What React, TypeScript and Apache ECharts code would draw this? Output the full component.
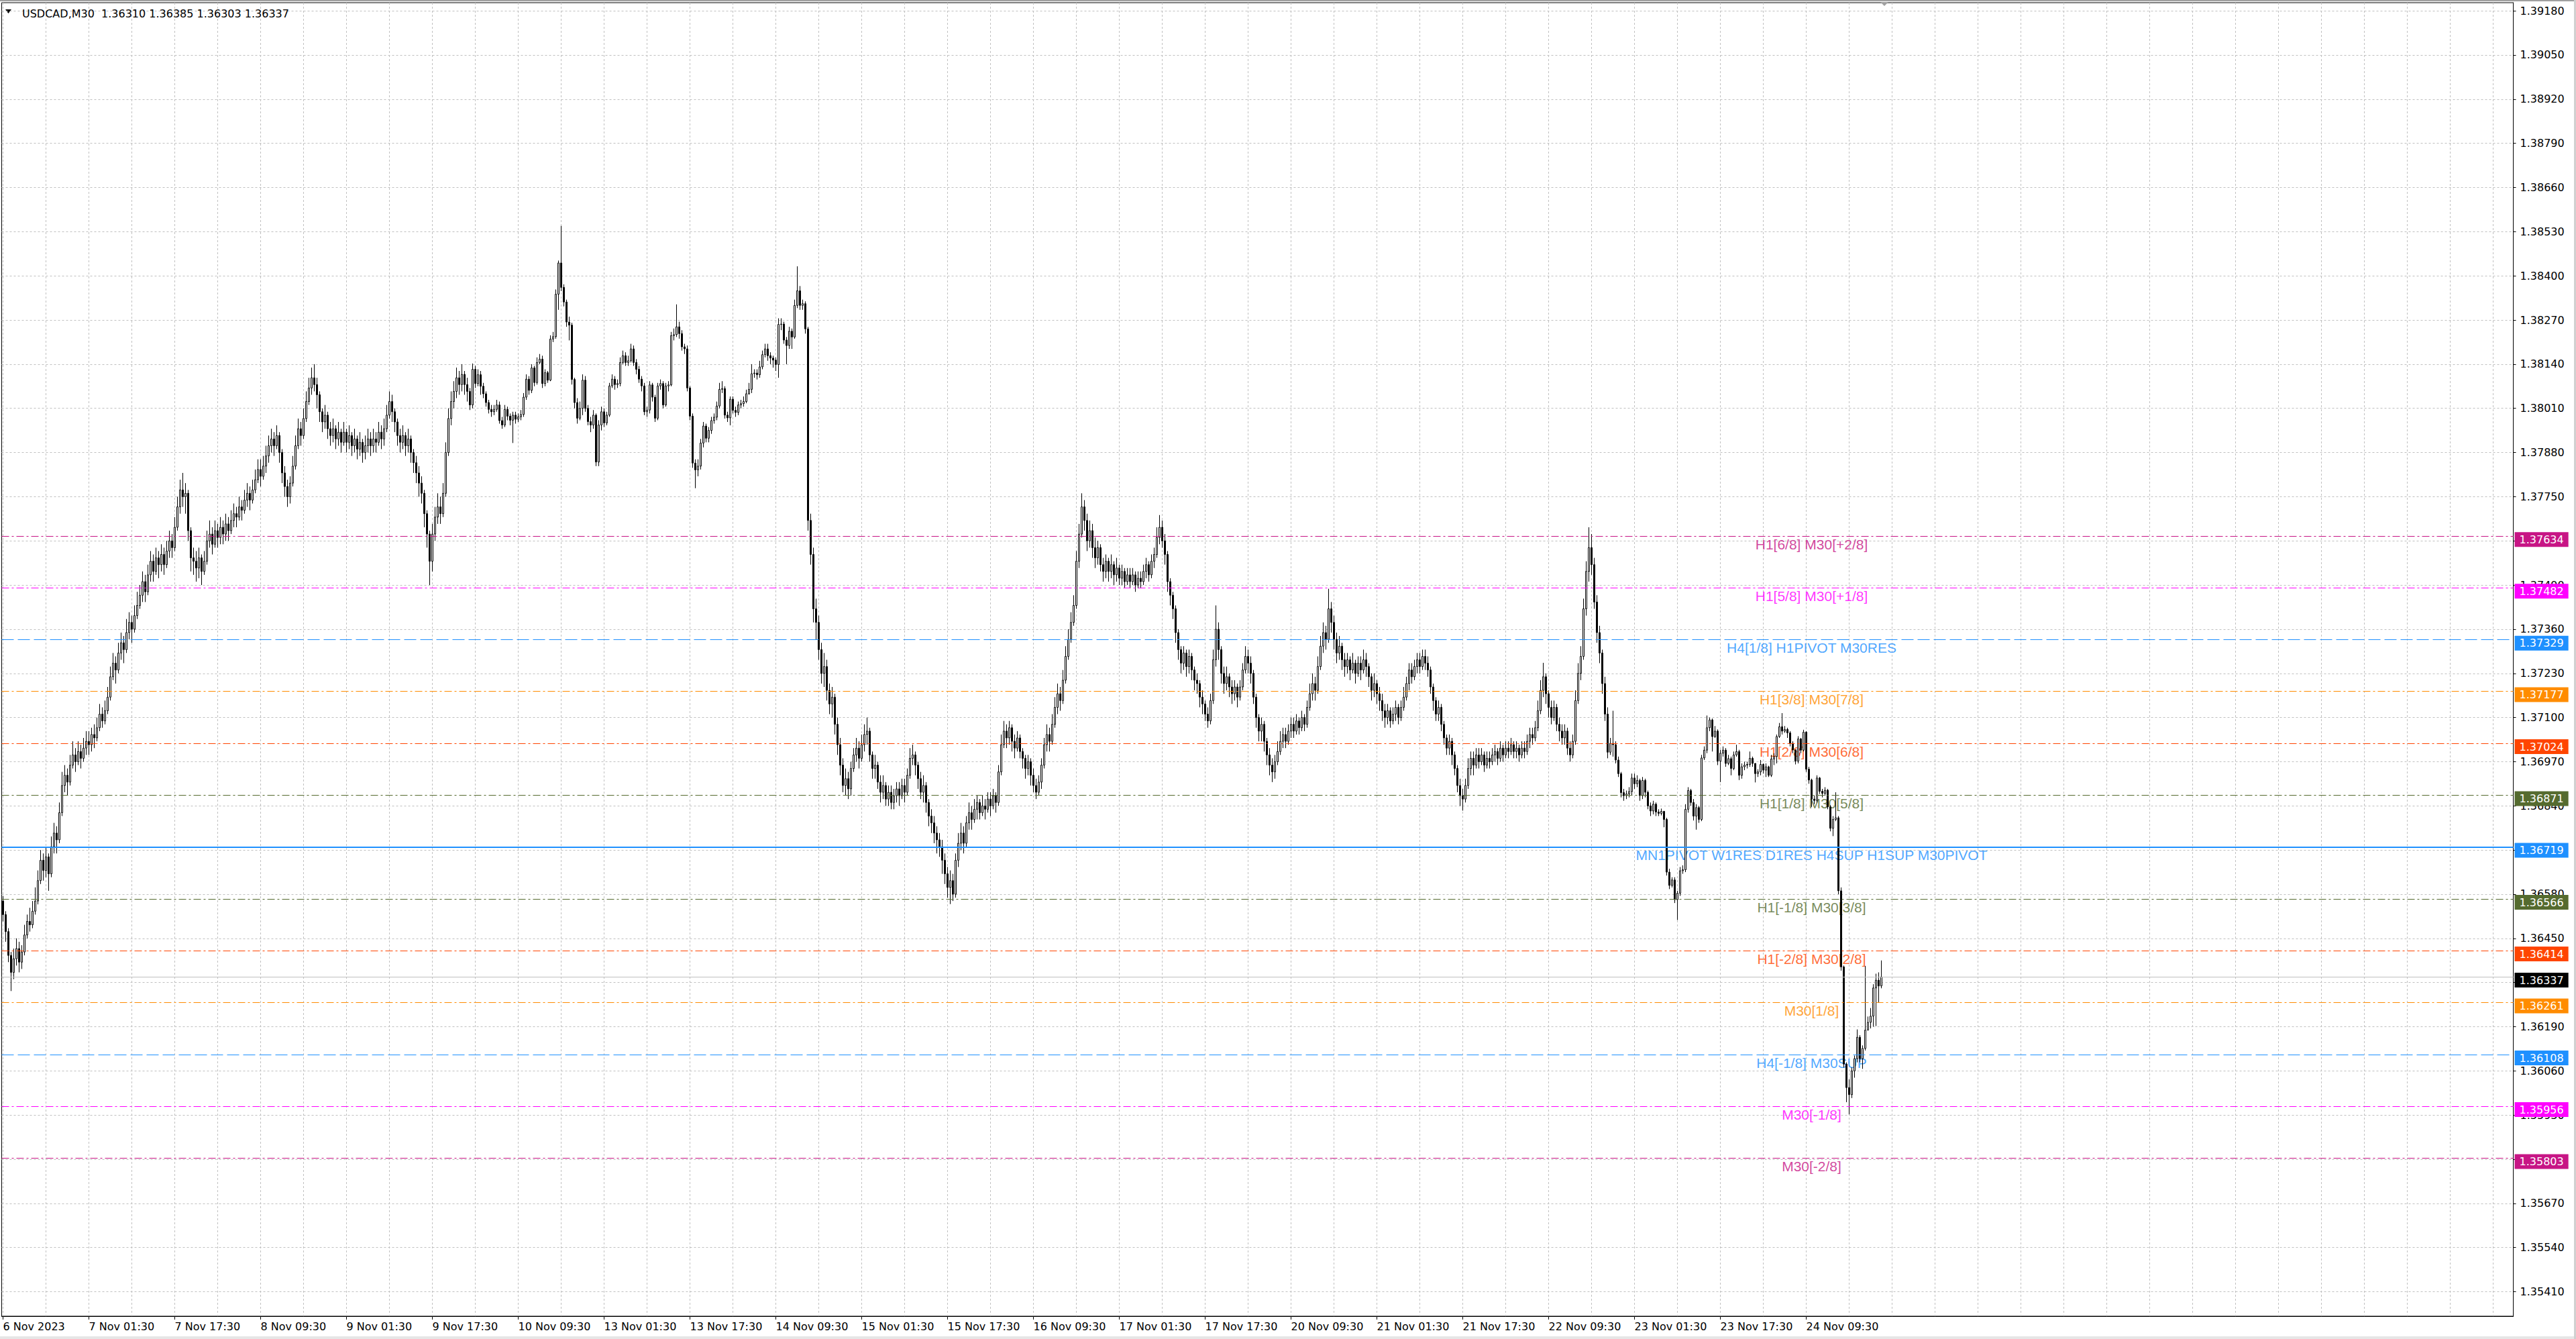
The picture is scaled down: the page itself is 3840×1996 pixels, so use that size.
import React, { useEffect, useRef } from "react";
import * as echarts from "echarts";

// Prices are stored in points above 1.30000 (1 point = 0.00001)
const PRICE_BASE = 1.3;
const POINT = 100000;
const FIRST_OPEN = 6560;

// USDCAD M30 bars, first bar 6 Nov 2023 09:30, one bar per slot
const closes = [
  6520, 6470, 6400, 6350, 6390, 6420, 6380, 6410, 6460, 6500,
  6490, 6530, 6560, 6620, 6680, 6650, 6690, 6640, 6720, 6760,
  6740, 6820, 6900, 6930, 6910, 6960, 6990, 6970, 7000, 6980,
  7010, 7030, 7020, 7050, 7040, 7070, 7110, 7090, 7120, 7160,
  7220, 7260, 7240, 7290, 7320, 7300, 7350, 7380, 7360, 7400,
  7430, 7460, 7500, 7470, 7520, 7560, 7530, 7570, 7550, 7580,
  7550, 7590, 7620, 7600, 7660, 7720, 7770, 7750, 7760, 7650,
  7570, 7560, 7540, 7570, 7530, 7560, 7620, 7640, 7610, 7650,
  7630, 7660, 7640, 7670, 7650, 7680, 7700, 7690, 7720, 7710,
  7740, 7760, 7740, 7770, 7800, 7830, 7810, 7840, 7870, 7900,
  7920, 7900, 7930, 7880, 7820, 7780, 7750, 7790, 7840, 7900,
  7950, 7930, 7980, 8030, 8070, 8100, 8080, 8050, 8000, 7970,
  7990, 7950, 7930, 7950, 7920, 7940, 7910, 7940, 7910, 7930,
  7900, 7920, 7890, 7910, 7880, 7900, 7920, 7900, 7920, 7910,
  7940, 7920, 7950, 7990, 8030, 8000, 7970, 7930, 7910, 7930,
  7900, 7920, 7880, 7850, 7820, 7790, 7760, 7700, 7640, 7560,
  7640, 7690, 7720, 7700, 7760, 7880, 7980, 8030, 8060, 8100,
  8080, 8110, 8080, 8060, 8020, 8125, 8083, 8109, 8075, 8053,
  8027, 8007, 8000, 8007, 8020, 7974, 7961, 8007, 7987, 7975,
  7990, 7978, 7985, 7992, 8043, 8096, 8063, 8129, 8086, 8145,
  8155, 8083, 8115, 8093, 8214, 8221, 8346, 8438, 8366, 8323,
  8264, 8255, 8095, 8027, 7981, 8010, 8093, 8010, 7971, 7961,
  7990, 7852, 7961, 8000, 7967, 7990, 8076, 8096, 8080, 8083,
  8145, 8165, 8145, 8150, 8185, 8145, 8125, 8096, 8076, 8000,
  8005, 8079, 8043, 7981, 8076, 8083, 8020, 8076, 8079, 8224,
  8227, 8250, 8230, 8191, 8185, 8070, 7987, 7849, 7829, 7840,
  7908, 7958, 7922, 7945, 7974, 7984, 8017, 8066, 8068, 7990,
  7982, 8037, 8004, 7998, 8020, 8024, 8030, 8053, 8066, 8112,
  8114, 8109, 8132, 8168, 8185, 8165, 8158, 8152, 8139, 8257,
  8258, 8211, 8195, 8237, 8220, 8313, 8356, 8313, 8318, 8244,
  7680, 7580, 7420, 7380, 7300, 7230, 7250, 7180, 7140, 7160,
  7080, 7020, 6960, 6900, 6920, 6890, 6950, 6990, 7010, 6980,
  7020, 7050, 7060, 6990, 6950, 6960, 6910, 6880, 6900, 6860,
  6880, 6850, 6870, 6890, 6870, 6900, 6880, 6930, 6980, 6990,
  6960, 6920, 6880, 6900, 6850, 6810, 6790, 6760, 6740, 6720,
  6680, 6640, 6600, 6620, 6580, 6680, 6730, 6760, 6730, 6790,
  6820, 6800, 6830, 6850, 6820, 6840, 6830, 6860, 6840, 6870,
  6850, 6940, 7020, 7060, 7040, 7070, 7030, 7010, 7040, 7000,
  6980, 6950, 6970, 6930, 6900, 6880, 6910, 6960, 7020, 7050,
  7030, 7080, 7130, 7170, 7150, 7210, 7280, 7330, 7380, 7430,
  7560, 7640, 7720, 7680, 7620, 7650, 7600, 7570, 7600, 7550,
  7530, 7560, 7530, 7550, 7520, 7540, 7510, 7530, 7500, 7520,
  7500, 7520, 7490, 7510, 7500, 7530, 7550, 7520, 7560, 7580,
  7630, 7660, 7620, 7580, 7500, 7460, 7420, 7350, 7300, 7260,
  7290, 7250, 7280, 7240, 7210, 7200, 7160, 7140, 7110, 7090,
  7150, 7270, 7360, 7300, 7230, 7200, 7220, 7190, 7170, 7190,
  7160, 7190, 7240, 7280, 7260, 7230, 7160, 7100, 7060, 7080,
  7030, 6990, 6960, 6940, 6970, 7000, 7030, 7050, 7030, 7060,
  7080, 7060, 7090, 7070, 7100, 7080, 7130, 7170, 7200, 7180,
  7250, 7310, 7350, 7330, 7420, 7380, 7330, 7290, 7310, 7270,
  7250, 7270, 7240, 7260, 7230, 7260, 7240, 7270, 7250, 7220,
  7180, 7200, 7170, 7150, 7120, 7100, 7120, 7090, 7110, 7130,
  7100, 7130, 7160, 7200, 7240, 7220, 7250, 7270, 7250, 7280,
  7260, 7240, 7190, 7150, 7110, 7130, 7080, 7040, 7010, 7030,
  6990, 6950, 6900, 6870, 6860, 6900, 6950, 6980, 6960, 6990,
  6970, 6990, 6960, 6980, 6970, 6990, 7000, 6980, 7010, 6990,
  7010, 7000, 7020, 7000, 7010, 6990, 7010, 7000, 7030, 7050,
  7040, 7070, 7120, 7180, 7220, 7170, 7130, 7100, 7130, 7080,
  7060, 7040, 7060, 7010, 6990, 7030, 7150, 7230, 7280, 7420,
  7530, 7600, 7550, 7440, 7350, 7290, 7200, 7110, 6998, 7024,
  7020, 6975, 6935, 6879, 6870, 6875, 6882, 6922, 6905, 6915,
  6870, 6915, 6880, 6840, 6825, 6845, 6822, 6818, 6824, 6800,
  6645, 6606, 6622, 6564, 6583, 6649, 6652, 6830, 6885, 6850,
  6810, 6835, 6800, 6981, 7004, 7070, 7093, 7044, 7060, 6972,
  6995, 7004, 6965, 6979, 6950, 6990, 7000, 6930, 6955, 6960,
  6962, 6980, 6965, 6935, 6940, 6962, 6945, 6955, 6930, 6978,
  6985, 7044, 7073, 7060, 7065, 7055, 7024, 7005, 6972, 7037,
  7004, 7057, 6948, 6916, 6860, 6856, 6922, 6883, 6877, 6886,
  6837, 6774, 6800, 6805, 6590, 6366, 6080, 6011, 5990, 6060,
  6096, 6159, 6096, 6126, 6180, 6203, 6221, 6304, 6327, 6310,
  6337,
];

const highs = [
  6575, 6530, 6480, 6410, 6420, 6450, 6440, 6430, 6490, 6520,
  6540, 6560, 6600, 6650, 6710, 6700, 6720, 6700, 6750, 6790,
  6780, 6850, 6940, 6960, 6950, 6990, 7030, 7010, 7030, 7020,
  7040, 7060, 7060, 7070, 7080, 7100, 7140, 7130, 7150, 7190,
  7250, 7290, 7280, 7320, 7350, 7340, 7390, 7410, 7400, 7430,
  7470, 7490, 7530, 7520, 7550, 7590, 7580, 7600, 7590, 7610,
  7600, 7620, 7650, 7640, 7690, 7750, 7800, 7820, 7790, 7770,
  7660, 7600, 7590, 7600, 7580, 7590, 7650, 7680, 7660, 7680,
  7670, 7690, 7680, 7700, 7690, 7710, 7730, 7720, 7750, 7740,
  7770, 7790, 7780, 7800, 7830, 7860, 7860, 7870, 7900, 7930,
  7950, 7940, 7960, 7940, 7890, 7840, 7800, 7810, 7870, 7930,
  7980, 7970, 8010, 8060, 8100, 8130, 8140, 8100, 8060, 8010,
  8020, 8000, 7970, 7980, 7960, 7970, 7950, 7970, 7950, 7960,
  7940, 7950, 7930, 7940, 7920, 7930, 7950, 7940, 7950, 7940,
  7970, 7960, 7980, 8020, 8060, 8050, 8010, 7980, 7950, 7960,
  7940, 7950, 7930, 7890, 7870, 7840, 7810, 7770, 7710, 7650,
  7670, 7720, 7760, 7750, 7790, 7910, 8010, 8060, 8090, 8130,
  8120, 8140, 8120, 8100, 8070, 8142, 8135, 8125, 8120, 8085,
  8060, 8035, 8020, 8020, 8035, 8030, 7985, 8020, 8015, 7995,
  8000, 8000, 7995, 8005, 8055, 8110, 8105, 8140, 8135, 8160,
  8170, 8165, 8125, 8120, 8225, 8235, 8360, 8445, 8547, 8375,
  8330, 8280, 8262, 8100, 8040, 8030, 8110, 8105, 8020, 7985,
  8005, 7995, 7975, 8015, 8010, 8000, 8085, 8110, 8105, 8095,
  8160, 8180, 8175, 8165, 8200, 8195, 8155, 8135, 8105, 8085,
  8015, 8090, 8085, 8050, 8085, 8095, 8090, 8085, 8090, 8235,
  8245, 8316, 8265, 8240, 8200, 8195, 8075, 7995, 7860, 7860,
  7920, 7970, 7965, 7955, 7985, 7995, 8030, 8085, 8090, 8075,
  8000, 8045, 8045, 8015, 8030, 8035, 8045, 8065, 8085, 8140,
  8125, 8125, 8150, 8180, 8200, 8200, 8175, 8165, 8160, 8275,
  8275, 8265, 8220, 8250, 8245, 8330, 8428, 8370, 8330, 8325,
  8250, 7700, 7600, 7450, 7400, 7320, 7290, 7270, 7200, 7190,
  7170, 7100, 7040, 6980, 6950, 6940, 6970, 7010, 7040, 7030,
  7050, 7080, 7100, 7070, 7000, 6990, 6970, 6930, 6930, 6910,
  6900, 6900, 6890, 6910, 6910, 6920, 6920, 6950, 7010, 7020,
  7000, 6970, 6940, 6930, 6910, 6860, 6830, 6810, 6780, 6760,
  6740, 6700, 6660, 6650, 6640, 6700, 6760, 6790, 6780, 6810,
  6850, 6840, 6860, 6870, 6860, 6870, 6860, 6880, 6880, 6890,
  6880, 6960, 7050, 7090, 7080, 7090, 7080, 7050, 7060, 7050,
  7010, 6990, 6990, 6980, 6950, 6920, 6930, 6980, 7040, 7080,
  7070, 7110, 7160, 7200, 7190, 7240, 7310, 7360, 7410, 7460,
  7590, 7670, 7760, 7740, 7700, 7680, 7670, 7630, 7620, 7610,
  7570, 7580, 7570, 7580, 7560, 7570, 7550, 7550, 7540, 7540,
  7540, 7540, 7530, 7530, 7530, 7550, 7570, 7560, 7580, 7600,
  7660, 7696, 7680, 7640, 7590, 7510, 7470, 7430, 7360, 7310,
  7310, 7300, 7300, 7290, 7250, 7230, 7210, 7180, 7150, 7130,
  7170, 7300, 7430, 7380, 7310, 7250, 7250, 7230, 7210, 7210,
  7200, 7210, 7260, 7310, 7300, 7280, 7240, 7170, 7110, 7100,
  7090, 7040, 7010, 6980, 6990, 7030, 7060, 7070, 7070, 7080,
  7100, 7100, 7110, 7100, 7120, 7110, 7150, 7200, 7230, 7220,
  7280, 7340, 7380, 7370, 7479, 7440, 7400, 7350, 7340, 7320,
  7290, 7290, 7280, 7290, 7270, 7280, 7280, 7300, 7290, 7260,
  7230, 7230, 7210, 7190, 7170, 7140, 7140, 7130, 7130, 7150,
  7140, 7150, 7190, 7220, 7260, 7260, 7270, 7290, 7290, 7300,
  7300, 7280, 7250, 7200, 7160, 7150, 7140, 7090, 7050, 7050,
  7040, 7000, 6960, 6920, 6890, 6920, 6980, 7000, 7000, 7010,
  7010, 7010, 7000, 7000, 7000, 7010, 7020, 7010, 7030, 7020,
  7030, 7030, 7040, 7030, 7030, 7020, 7030, 7030, 7050, 7070,
  7070, 7090, 7150, 7210, 7261, 7230, 7180, 7150, 7150, 7140,
  7100, 7080, 7080, 7070, 7030, 7050, 7180, 7260, 7310, 7450,
  7560, 7660, 7640, 7570, 7460, 7370, 7300, 7220, 7130, 7040,
  7120, 7030, 6985, 6940, 6890, 6885, 6895, 6935, 6935, 6930,
  6920, 6925, 6920, 6885, 6850, 6855, 6850, 6830, 6832, 6825,
  6805, 6655, 6630, 6630, 6590, 6660, 6665, 6845, 6895, 6890,
  6860, 6845, 6840, 6990, 7015, 7106, 7100, 7097, 7075, 7065,
  7005, 7015, 7010, 6990, 6985, 7000, 7020, 7005, 6965, 6970,
  6970, 7000, 6985, 6965, 6948, 6975, 6965, 6965, 6958, 6990,
  6995, 7050, 7084, 7113, 7075, 7070, 7060, 7030, 7005, 7045,
  7040, 7064, 7060, 6955, 6920, 6870, 6930, 6925, 6890, 6895,
  6890, 6842, 6810, 6880, 6810, 6600, 6370, 6085, 6035, 6070,
  6105, 6182, 6165, 6135, 6369, 6220, 6245, 6315, 6346, 6350,
  6385,
];

const lows = [
  6500, 6440, 6380, 6295, 6330, 6370, 6350, 6360, 6400, 6450,
  6470, 6480, 6520, 6550, 6610, 6620, 6630, 6590, 6630, 6700,
  6700, 6730, 6810, 6880, 6870, 6900, 6950, 6940, 6960, 6950,
  6970, 6990, 6990, 7000, 7010, 7030, 7060, 7070, 7080, 7110,
  7150, 7210, 7200, 7230, 7270, 7260, 7290, 7330, 7320, 7350,
  7390, 7420, 7440, 7440, 7460, 7500, 7500, 7520, 7510, 7530,
  7520, 7540, 7570, 7570, 7590, 7650, 7700, 7720, 7700, 7620,
  7530, 7520, 7500, 7510, 7490, 7520, 7550, 7600, 7580, 7600,
  7600, 7610, 7610, 7620, 7620, 7640, 7660, 7660, 7680, 7680,
  7700, 7720, 7710, 7730, 7760, 7790, 7780, 7800, 7820, 7850,
  7880, 7870, 7890, 7850, 7790, 7750, 7720, 7730, 7780, 7830,
  7890, 7900, 7920, 7970, 8020, 8050, 8060, 8010, 7970, 7940,
  7950, 7920, 7900, 7910, 7890, 7900, 7880, 7900, 7880, 7890,
  7870, 7880, 7860, 7870, 7850, 7860, 7880, 7870, 7880, 7880,
  7900, 7890, 7900, 7940, 7980, 7970, 7940, 7900, 7880, 7890,
  7870, 7880, 7850, 7820, 7790, 7750, 7730, 7660, 7600, 7490,
  7530, 7620, 7670, 7670, 7690, 7750, 7870, 7960, 8010, 8040,
  8050, 8060, 8050, 8030, 8005, 8010, 8070, 8075, 8050, 8040,
  8015, 7995, 7985, 7990, 8000, 7965, 7950, 7955, 7975, 7960,
  7908, 7965, 7970, 7975, 7985, 8035, 8050, 8055, 8075, 8080,
  8140, 8070, 8075, 8085, 8090, 8205, 8215, 8300, 8355, 8310,
  8250, 8210, 8080, 8010, 7965, 7975, 7990, 8000, 7960, 7940,
  7950, 7840, 7840, 7945, 7955, 7960, 7985, 8070, 8065, 8070,
  8075, 8140, 8135, 8135, 8145, 8135, 8110, 8085, 8060, 7990,
  7985, 7995, 8030, 7970, 7975, 8065, 8010, 8015, 8060, 8075,
  8210, 8220, 8215, 8180, 8170, 8060, 7975, 7835, 7775, 7810,
  7830, 7895, 7910, 7910, 7935, 7965, 7975, 8010, 8055, 7980,
  7970, 7960, 7995, 7985, 7990, 8010, 8015, 8025, 8050, 8055,
  8100, 8095, 8100, 8125, 8160, 8150, 8140, 8130, 8120, 8100,
  8240, 8200, 8140, 8185, 8185, 8215, 8305, 8300, 8300, 8230,
  7650, 7550, 7380, 7330, 7270, 7200, 7190, 7150, 7110, 7100,
  7050, 6990, 6930, 6880, 6870, 6860, 6870, 6940, 6970, 6950,
  6970, 7000, 7020, 6970, 6920, 6920, 6890, 6850, 6860, 6840,
  6840, 6830, 6830, 6850, 6840, 6860, 6850, 6870, 6920, 6960,
  6930, 6890, 6860, 6850, 6820, 6780, 6760, 6730, 6700, 6690,
  6640, 6610, 6570, 6551, 6560, 6570, 6660, 6710, 6700, 6720,
  6770, 6770, 6790, 6800, 6800, 6810, 6800, 6820, 6810, 6830,
  6820, 6840, 6930, 7010, 7010, 7020, 7000, 6980, 7000, 6980,
  6950, 6920, 6930, 6900, 6880, 6860, 6870, 6890, 6950, 7000,
  7000, 7020, 7070, 7110, 7120, 7140, 7200, 7270, 7320, 7370,
  7420, 7540, 7630, 7650, 7590, 7600, 7570, 7540, 7550, 7530,
  7500, 7510, 7500, 7510, 7490, 7500, 7490, 7490, 7480, 7490,
  7480, 7490, 7470, 7480, 7480, 7490, 7510, 7500, 7510, 7540,
  7570, 7610, 7600, 7550, 7470, 7430, 7390, 7320, 7270, 7230,
  7240, 7220, 7230, 7210, 7180, 7170, 7130, 7110, 7090, 7070,
  7080, 7140, 7250, 7270, 7200, 7170, 7180, 7160, 7140, 7150,
  7130, 7150, 7180, 7230, 7230, 7200, 7140, 7070, 7030, 7030,
  7000, 6960, 6930, 6910, 6920, 6960, 6990, 7010, 7010, 7020,
  7040, 7040, 7050, 7050, 7060, 7060, 7070, 7120, 7150, 7150,
  7170, 7240, 7290, 7300, 7320, 7350, 7300, 7260, 7270, 7240,
  7220, 7230, 7210, 7230, 7200, 7220, 7210, 7230, 7220, 7190,
  7150, 7160, 7140, 7120, 7090, 7070, 7080, 7070, 7080, 7090,
  7080, 7090, 7120, 7150, 7180, 7200, 7210, 7230, 7230, 7240,
  7240, 7220, 7170, 7120, 7090, 7090, 7060, 7020, 6990, 6990,
  6960, 6930, 6880, 6840, 6826, 6850, 6890, 6930, 6930, 6950,
  6950, 6960, 6940, 6950, 6950, 6960, 6970, 6960, 6970, 6970,
  6980, 6980, 6990, 6980, 6980, 6970, 6980, 6980, 6990, 7010,
  7020, 7030, 7060, 7110, 7160, 7140, 7100, 7080, 7090, 7060,
  7030, 7020, 7020, 6990, 6970, 6980, 7020, 7140, 7210, 7270,
  7400, 7500, 7520, 7420, 7320, 7260, 7170, 7090, 6980, 6990,
  6985, 6965, 6925, 6865, 6855, 6860, 6865, 6870, 6890, 6895,
  6855, 6860, 6865, 6830, 6810, 6815, 6810, 6810, 6812, 6777,
  6635, 6595, 6600, 6554, 6504, 6575, 6640, 6645, 6820, 6840,
  6797, 6770, 6790, 6795, 6975, 6995, 7060, 7000, 7040, 6960,
  6910, 6985, 6955, 6960, 6930, 6945, 6985, 6916, 6920, 6945,
  6950, 6955, 6955, 6909, 6925, 6930, 6935, 6925, 6925, 6925,
  6960, 6965, 7040, 7050, 7055, 7040, 7015, 6995, 6962, 6965,
  6995, 7000, 6940, 6905, 6837, 6845, 6850, 6875, 6865, 6870,
  6830, 6765, 6751, 6795, 6580, 6355, 6070, 5968, 5932, 5980,
  6040, 6085, 6085, 6066, 6120, 6180, 6185, 6190, 6192, 6262,
  6303,
];

const xLabels = [
  "6 Nov 2023", "7 Nov 01:30", "7 Nov 17:30", "8 Nov 09:30", "9 Nov 01:30",
  "9 Nov 17:30", "10 Nov 09:30", "13 Nov 01:30", "13 Nov 17:30", "14 Nov 09:30",
  "15 Nov 01:30", "15 Nov 17:30", "16 Nov 09:30", "17 Nov 01:30", "17 Nov 17:30",
  "20 Nov 09:30", "21 Nov 01:30", "21 Nov 17:30", "22 Nov 09:30", "23 Nov 01:30",
  "23 Nov 17:30", "24 Nov 09:30",
];

const yTicks = [
  1.3918, 1.3905, 1.3892, 1.3879, 1.3866, 1.3853, 1.384, 1.3827, 1.3814, 1.3801,
  1.3788, 1.3775, 1.3762, 1.3749, 1.3736, 1.3723, 1.371, 1.3697, 1.3684, 1.3671,
  1.3658, 1.3645, 1.3632, 1.3619, 1.3606, 1.3593, 1.358, 1.3567, 1.3554, 1.3541,
];

const levelPrices = [
  1.37634, 1.37482, 1.37329, 1.37177, 1.37024, 1.36871, 1.36719,
  1.36566, 1.36414, 1.36261, 1.36108, 1.35956, 1.35803,
];
const levelNames = [
  "H1[6/8] M30[+2/8]",
  "H1[5/8] M30[+1/8]",
  "H4[1/8] H1PIVOT M30RES",
  "H1[3/8] M30[7/8]",
  "H1[2/8] M30[6/8]",
  "H1[1/8] M30[5/8]",
  "MN1PIVOT W1RES D1RES H4SUP H1SUP M30PIVOT",
  "H1[-1/8] M30[3/8]",
  "H1[-2/8] M30[2/8]",
  "M30[1/8]",
  "H4[-1/8] M30SUP",
  "M30[-1/8]",
  "M30[-2/8]",
];
const levelColors = [
  "#C71585", "#FF00FF", "#1E90FF", "#FF8C00", "#FF4500", "#556B2F", "#1E90FF",
  "#556B2F", "#FF4500", "#FF8C00", "#1E90FF", "#FF00FF", "#C71585",
];
const levelStyles = [
  "dashdot", "dashdot", "dash", "dashdot", "dashdot", "dashdot", "solid",
  "dashdot", "dashdot", "dashdot", "dash", "dashdot", "dashdot",
];
const lastPrice = 1.36337;
const chartTitle = "USDCAD,M30\u00a0 1.36310 1.36385 1.36303 1.36337";

const SLOT_COUNT = 936;
const LABEL_EVERY = 32;
const GRID_EVERY = 16;
const LEVEL_LABEL_SLOT = 674;
const Y_MIN = 1.35338;
const Y_MAX = 1.39204;

const GRID_LEFT = 2.5;
const GRID_RIGHT = 93.5;
const GRID_TOP = 4;
const GRID_BOTTOM = 34;
const PAGE_H = 1996;
const TAG_DROP_PX = 5;

const AXIS_FONT = "DejaVu Sans";
const LEVEL_FONT = "Liberation Sans";

function dashOf(style: string): any {
  if (style === "dashdot") return [11, 4, 3, 4];
  if (style === "dash") return [18, 6];
  return "solid";
}

function toPrice(v: number) {
  return PRICE_BASE + v / POINT;
}

function buildOption() {
  const categories = Array.from({ length: SLOT_COUNT }, (_, i) => String(i));
  const candles = closes.map((c, i) => {
    const o = i === 0 ? FIRST_OPEN : closes[i - 1];
    const h = Math.max(highs[i], o, c);
    const l = Math.min(lows[i], o, c);
    return [toPrice(o), toPrice(c), toPrice(l), toPrice(h)];
  });

  const isLabelSlot = (i: number) => i % LABEL_EVERY === 0 && i / LABEL_EVERY < xLabels.length;

  // price tags sit a few pixels below their line, as in the terminal
  const pricePerPx = (Y_MAX - Y_MIN) / (PAGE_H - GRID_TOP - GRID_BOTTOM);
  const tagShift = TAG_DROP_PX * pricePerPx;

  const tagItem = (p: number, bg: string) => ({
    yAxis: p - tagShift,
    lineStyle: { color: "rgba(0,0,0,0)", width: 0 },
    label: {
      show: true,
      position: "end",
      distance: 2,
      formatter: p.toFixed(5),
      color: "#fff",
      opacity: 1,
      backgroundColor: bg,
      padding: [3, 7, 3, 7],
      fontFamily: AXIS_FONT,
      fontSize: 16,
      lineHeight: 16,
    },
  });

  const markLineData: any[] = [];
  levelPrices.forEach((p, k) => {
    markLineData.push({
      yAxis: p,
      lineStyle: {
        color: levelColors[k],
        width: levelStyles[k] === "solid" ? 2 : 1,
        type: dashOf(levelStyles[k]),
      },
      label: { show: false },
    });
  });
  markLineData.push({
    yAxis: lastPrice,
    lineStyle: { color: "#C0C0C0", width: 1, type: "solid" },
    label: { show: false },
  });
  levelPrices.forEach((p, k) => markLineData.push(tagItem(p, levelColors[k])));
  markLineData.push(tagItem(lastPrice, "#000"));

  return {
    animation: false,
    backgroundColor: "#fff",
    title: {
      text: chartTitle,
      left: 33,
      top: 12,
      padding: 0,
      textStyle: { fontFamily: AXIS_FONT, fontSize: 16, fontWeight: "normal", color: "#000" },
    },
    grid: {
      left: GRID_LEFT,
      right: GRID_RIGHT,
      top: GRID_TOP,
      bottom: GRID_BOTTOM,
      show: true,
      borderColor: "#000",
      borderWidth: 1,
      backgroundColor: "#fff",
    },
    xAxis: {
      type: "category",
      data: categories,
      boundaryGap: true,
      axisLine: { show: true, lineStyle: { color: "#000", width: 1 } },
      axisTick: {
        show: true,
        interval: (i: number) => isLabelSlot(i),
        alignWithLabel: true,
        length: 5,
        lineStyle: { color: "#000" },
      },
      axisLabel: {
        interval: (i: number) => isLabelSlot(i),
        formatter: (_v: string, i: number) => (isLabelSlot(i) ? xLabels[i / LABEL_EVERY] : ""),
        align: "left",
        margin: 7,
        color: "#000",
        fontFamily: AXIS_FONT,
        fontSize: 16,
      },
      splitLine: {
        show: true,
        interval: (i: number) => i % GRID_EVERY === 0,
        alignWithLabel: true,
        lineStyle: { color: "#C0C0C0", type: [3, 3], width: 1 },
      },
    },
    yAxis: {
      type: "value",
      position: "right",
      min: Y_MIN,
      max: Y_MAX,
      axisLine: { show: true, lineStyle: { color: "#000", width: 1 } },
      axisTick: { show: true, customValues: yTicks, length: 4, lineStyle: { color: "#000" } },
      axisLabel: {
        customValues: yTicks,
        formatter: (v: number) => v.toFixed(5),
        margin: 10,
        color: "#000",
        fontFamily: AXIS_FONT,
        fontSize: 16,
      },
      splitLine: { show: true, lineStyle: { color: "#C0C0C0", type: [3, 3], width: 1 } },
    },
    series: [
      {
        name: "levels",
        type: "scatter",
        z: 1,
        silent: true,
        symbolSize: 1,
        itemStyle: { color: "rgba(0,0,0,0)" },
        data: levelPrices.map((p, k) => ({
          value: [LEVEL_LABEL_SLOT, p],
          label: {
            show: true,
            position: "bottom",
            distance: 1,
            formatter: levelNames[k],
            color: levelColors[k],
            fontFamily: LEVEL_FONT,
            fontSize: 21,
          },
        })),
        markLine: {
          silent: true,
          precision: 6,
          symbol: ["none", "none"],
          emphasis: { disabled: true },
          data: markLineData,
        },
      },
      {
        name: "USDCAD,M30",
        type: "candlestick",
        z: 3,
        data: candles,
        barWidth: 2.5,
        large: false,
        progressive: 0,
        itemStyle: {
          color: "#fff",
          color0: "#000",
          borderColor: "#000",
          borderColor0: "#000",
          borderWidth: 1,
        },
      },
    ],
    graphic: [
      { type: "rect", shape: { x: 0, y: 0, width: 3840, height: 2 }, style: { fill: "#A0A0A0" }, silent: true },
      { type: "rect", shape: { x: 0, y: 1992, width: 3840, height: 4 }, style: { fill: "#E6E6E6" }, silent: true },
      { type: "rect", shape: { x: 3837, y: 0, width: 3, height: 1996 }, style: { fill: "#D0D0D0" }, silent: true },
      { type: "polygon", shape: { points: [[8, 14], [17, 14], [12.5, 20]] }, style: { fill: "#000" }, silent: true },
      { type: "polygon", shape: { points: [[2803, 3], [2815, 3], [2809, 9]] }, style: { fill: "#A0A0A0" }, silent: true },
    ],
  };
}

export default function App() {
  const ref = useRef<HTMLDivElement>(null);
  useEffect(() => {
    document.body.style.margin = "0";
    if (!ref.current) return;
    const chart = echarts.init(ref.current, undefined, { renderer: "svg" });
    chart.setOption(buildOption() as any);
    return () => chart.dispose();
  }, []);
  return <div ref={ref} style={{ width: 3840, height: 1996 }} />;
}
